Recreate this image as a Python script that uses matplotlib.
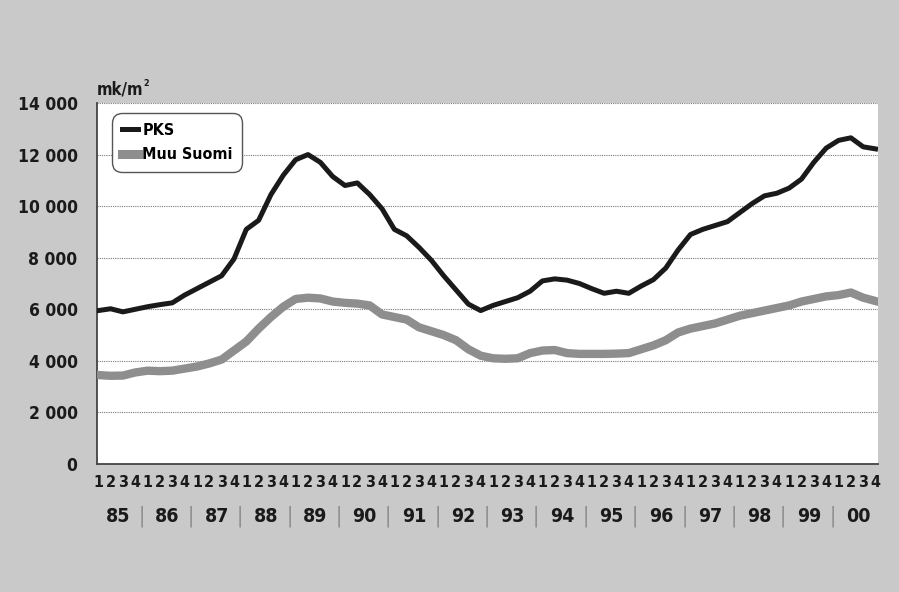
import matplotlib
matplotlib.use("Agg")
import matplotlib.pyplot as plt
from matplotlib.lines import Line2D
from matplotlib.transforms import blended_transform_factory

plt.rcParams['font.family'] = ['DejaVu Sans']
plt.rcParams['font.stretch'] = 'condensed'
plt.rcParams['font.weight'] = 'bold'

# neljännesvuosittaiset hinnat 1985 Q1 - 2000 Q4, mk/m2
vuodet = ["85", "86", "87", "88", "89", "90", "91", "92",
          "93", "94", "95", "96", "97", "98", "99", "00"]
neljannekset = ["1", "2", "3", "4"]

pks = [5950, 6020, 5900, 6000, 6100, 6180, 6250, 6550,
       6800, 7050, 7300, 7950, 9100, 9450, 10450, 11200,
       11800, 12000, 11700, 11150, 10800, 10900, 10450, 9900,
       9100, 8850, 8400, 7900, 7300, 6750, 6200, 5950,
       6150, 6300, 6450, 6700, 7100, 7180, 7130, 7000,
       6800, 6620, 6700, 6620, 6900, 7150, 7600, 8300,
       8900, 9100, 9250, 9400, 9750, 10100, 10400, 10500,
       10700, 11050, 11700, 12250, 12550, 12650, 12300, 12220]

muu_suomi = [3450, 3420, 3430, 3550, 3620, 3600, 3620, 3700,
             3780, 3900, 4050, 4400, 4750, 5250, 5700, 6100,
             6400, 6450, 6420, 6300, 6250, 6220, 6150, 5800,
             5700, 5600, 5300, 5150, 5000, 4800, 4450, 4200,
             4100, 4080, 4100, 4300, 4400, 4420, 4300, 4270,
             4270, 4270, 4280, 4300, 4450, 4600, 4800, 5100,
             5250, 5350, 5450, 5600, 5750, 5850, 5950, 6050,
             6150, 6300, 6400, 6500, 6550, 6650, 6450, 6320]

y_ticks = [0, 2000, 4000, 6000, 8000, 10000, 12000, 14000]
y_labels = ["0", "2 000", "4 000", "6 000", "8 000", "10 000", "12 000", "14 000"]

TAUSTA = '#c9c9c9'
HARMAA = '#8e8e8e'
MUSTA = '#1a1a1a'

fig = plt.figure(figsize=(8.99, 5.92), dpi=100, facecolor=TAUSTA)
ax = fig.add_axes([97 / 899, 1 - 464 / 592, 781 / 899, 361 / 592])
ax.set_facecolor('white')

x = list(range(len(pks)))
ax.plot(x, muu_suomi, color=HARMAA, lw=6.0, solid_joinstyle='round', zorder=3)
ax.plot(x, pks, color=MUSTA, lw=3.6, solid_joinstyle='round', zorder=4)

ax.set_xlim(-0.1, 63.2)
ax.set_ylim(0, 14000)

ax.set_yticks(y_ticks)
ax.set_yticklabels(y_labels, fontsize=12.5)
ax.grid(axis='y', color='#7a7a7a', ls=(0, (1, 1)), lw=0.8)
ax.set_axisbelow(True)

ax.set_xticks(x)
ax.set_xticklabels([neljannekset[i % 4] for i in x], fontsize=11.5)
ax.tick_params(axis='x', length=0, pad=8, colors=MUSTA)
ax.tick_params(axis='y', length=0, pad=14, colors=MUSTA)

for s in ['top', 'right']:
    ax.spines[s].set_visible(False)
for s in ['left', 'bottom']:
    ax.spines[s].set_color('#444444')
    ax.spines[s].set_linewidth(1.3)

# vuosiotsikot ja erottimet
trans = blended_transform_factory(ax.transData, ax.transAxes)
for k, v in enumerate(vuodet):
    ax.text(4 * k + 1.6, -0.145, v, transform=trans, ha='center', va='center',
            fontsize=14, color=MUSTA)
    if k < len(vuodet) - 1:
        ax.text(4 * k + 3.5, -0.145, "|", transform=trans, ha='center', va='center',
                fontsize=15, color='#8a8a8a', fontweight='normal')

# yksikkö
yks = fig.text(97 / 899, 1 - 94 / 592, "mk/m", ha='left', va='baseline',
               fontsize=12, color=MUSTA)
fig.canvas.draw()
bb = yks.get_window_extent()
fig.text(bb.x1 / fig.bbox.width, 1 - 86 / 592, "2", ha='left',
         va='baseline', fontsize=6.5, color=MUSTA)

handles = [Line2D([], [], color=MUSTA, lw=3.6),
           Line2D([], [], color=HARMAA, lw=6.5)]
leg = ax.legend(handles, ["PKS", "Muu Suomi"], loc='upper left',
                bbox_to_anchor=(15 / 781, 1 - 10 / 361), borderaxespad=0,
                fontsize=11.5, handlelength=1.0, handletextpad=0.3,
                borderpad=0.6, labelspacing=0.6,
                fancybox=True, framealpha=1, edgecolor='#555555')
leg.get_frame().set_linewidth(1.0)
leg.get_frame().set_boxstyle('round,pad=0,rounding_size=0.6')

fig.savefig("out.png", dpi=100, facecolor=TAUSTA)
